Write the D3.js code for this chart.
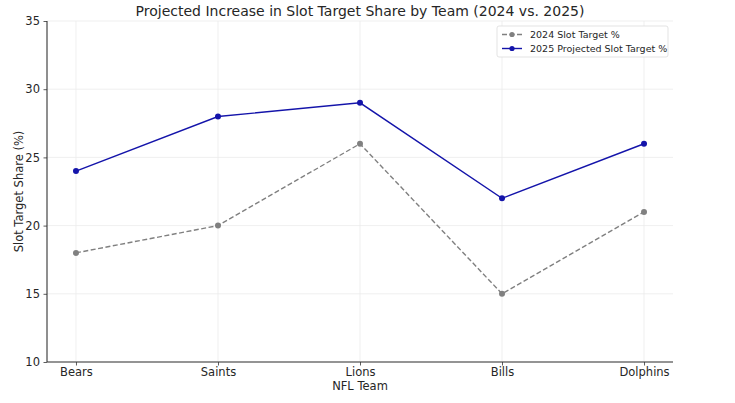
<!DOCTYPE html>
<html>
<head>
<meta charset="utf-8">
<script src="https://cdn.jsdelivr.net/npm/d3@7"></script>
<style>
  body { margin: 0; background: #fff; }
  text { font-family: "DejaVu Sans", sans-serif; fill: #262626; }
</style>
</head>
<body>
<svg id="chart" width="735" height="403"></svg>
<script>
const teams = ['Bears', 'Saints', 'Lions', 'Bills', 'Dolphins'];
const slot2024 = [18, 20, 26, 15, 21];
const slot2025 = [24, 28, 29, 22, 26];
const yTicks = [10, 15, 20, 25, 30, 35];

const svg = d3.select('#chart');
const margin = { left: 47, right: 62, top: 21, bottom: 41 };
const width = 735, height = 403;

const x = d3.scalePoint()
    .domain(teams)
    .range([margin.left, width - margin.right])
    .padding(0.204);

const y = d3.scaleLinear()
    .domain([10, 35])
    .range([height - margin.bottom, margin.top]);

// Grid
const grid = svg.append('g').attr('class', 'grid');
grid.selectAll('line.h')
    .data(yTicks)
    .join('line')
    .attr('class', 'h')
    .attr('x1', margin.left).attr('x2', width - margin.right)
    .attr('y1', d => y(d)).attr('y2', d => y(d))
    .attr('stroke', '#ebebeb').attr('stroke-width', 0.8);
grid.selectAll('line.v')
    .data(teams)
    .join('line')
    .attr('class', 'v')
    .attr('x1', d => x(d)).attr('x2', d => x(d))
    .attr('y1', margin.top).attr('y2', height - margin.bottom)
    .attr('stroke', '#ebebeb').attr('stroke-width', 0.8);

// Axes
const xAxis = svg.append('g')
    .attr('transform', `translate(0,${height - margin.bottom})`)
    .call(d3.axisBottom(x).tickSize(3.5).tickPadding(2));
const yAxis = svg.append('g')
    .attr('transform', `translate(${margin.left},0)`)
    .call(d3.axisLeft(y).tickValues(yTicks).tickSize(3.5).tickPadding(3.5));

[xAxis, yAxis].forEach(a => {
    a.select('.domain').attr('stroke', '#333').attr('stroke-width', 1.1);
    a.selectAll('.tick line').attr('stroke', '#333').attr('stroke-width', 0.8);
    a.selectAll('.tick text').style('font-size', '11.5px').attr('fill', '#262626');
});
// the x domain should run the full axes width
xAxis.select('.domain').attr('d', `M${margin.left},0H${width - margin.right}`);
yAxis.select('.domain').attr('d', `M0,${y(35)}V${y(10)}`);

// Lines
const series = [
    { name: '2024 Slot Target %', values: slot2024, color: '#808080', dash: '5,2.5' },
    { name: '2025 Projected Slot Target %', values: slot2025, color: '#1414aa', dash: null }
];

const line = d3.line()
    .x((d, i) => x(teams[i]))
    .y(d => y(d));

series.forEach(s => {
    svg.append('path')
        .datum(s.values)
        .attr('fill', 'none')
        .attr('stroke', s.color)
        .attr('stroke-width', 1.4)
        .attr('stroke-dasharray', s.dash)
        .attr('d', line);
    svg.append('g')
        .selectAll('circle')
        .data(s.values)
        .join('circle')
        .attr('cx', (d, i) => x(teams[i]))
        .attr('cy', d => y(d))
        .attr('r', 3)
        .attr('fill', s.color);
});

// Title and labels
svg.append('text')
    .attr('x', (margin.left + width - margin.right) / 2)
    .attr('y', 16)
    .attr('text-anchor', 'middle')
    .style('font-size', '14px')
    .text('Projected Increase in Slot Target Share by Team (2024 vs. 2025)');

svg.append('text')
    .attr('x', (margin.left + width - margin.right) / 2)
    .attr('y', 390)
    .attr('text-anchor', 'middle')
    .style('font-size', '11.5px')
    .text('NFL Team');

svg.append('text')
    .attr('transform', `translate(23,${(margin.top + height - margin.bottom) / 2}) rotate(-90)`)
    .attr('text-anchor', 'middle')
    .style('font-size', '11.5px')
    .text('Slot Target Share (%)');

// Legend
const legend = svg.append('g').attr('transform', 'translate(497,26)');
legend.append('rect')
    .attr('width', 171).attr('height', 31)
    .attr('rx', 2)
    .attr('fill', '#fff')
    .attr('stroke', '#dcdcdc').attr('stroke-width', 0.8);

const items = legend.selectAll('g.item')
    .data(series)
    .join('g')
    .attr('class', 'item')
    .attr('transform', (d, i) => `translate(5,${8.5 + i * 14})`);
items.append('line')
    .attr('x1', 0).attr('x2', 20)
    .attr('stroke', d => d.color)
    .attr('stroke-width', 1.4)
    .attr('stroke-dasharray', d => d.dash);
items.append('circle')
    .attr('cx', 10).attr('r', 2.6)
    .attr('fill', d => d.color);
items.append('text')
    .attr('x', 28).attr('dy', '0.35em')
    .style('font-size', '9.5px')
    .text(d => d.name);
</script>
</body>
</html>
